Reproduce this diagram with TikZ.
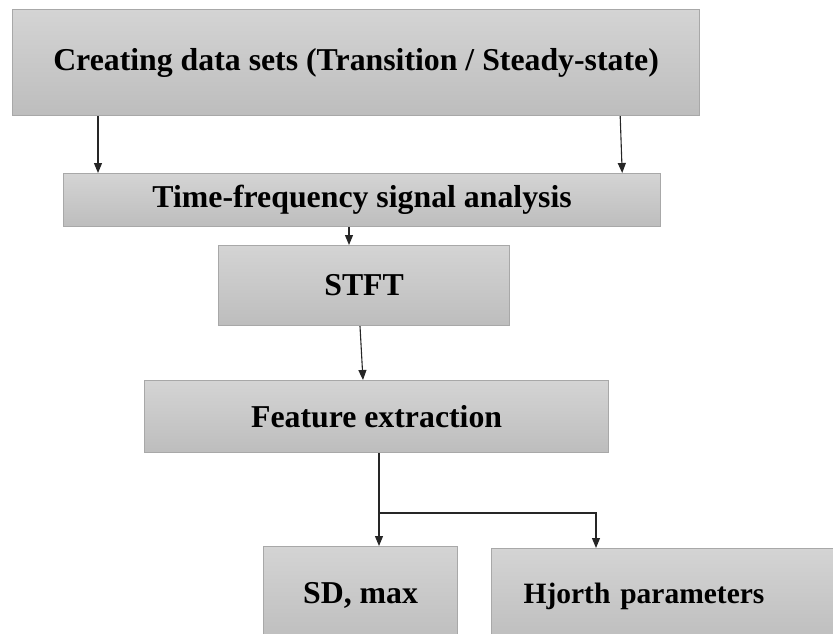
\documentclass[tikz,border=0pt]{standalone}
\usepackage{fontspec}
\setmainfont{Liberation Serif}
\usetikzlibrary{arrows.meta}
\definecolor{boxtop}{HTML}{D4D4D4}
\definecolor{boxbot}{HTML}{BDBDBD}
\definecolor{boxline}{HTML}{A8A8A8}
\tikzset{
  box/.style={draw=boxline, line width=1.2pt, top color=boxtop, bottom color=boxbot,
    rectangle, anchor=north west, inner sep=0pt,
    font=\fontsize{31.8}{36}\selectfont\bfseries},
  arr/.style={draw=black!85, line width=1.1pt, -{Triangle[length=10pt,width=8pt]}},
}
\begin{document}
\begin{tikzpicture}[x=1pt,y=-1pt]
\useasboundingbox (0,0) rectangle (833,634);
\clip (0,0) rectangle (833,634);
\node[box, minimum width=687pt, minimum height=106pt] (b1) at (12,9) {\raisebox{-3pt}{Creating data sets (Transition / Steady-state)}};
\node[box, minimum width=597pt, minimum height=53pt] (b2) at (63,173) {Time-frequency signal analysis};
\node[box, minimum width=291pt, minimum height=80pt] (st) at (218,245) {STFT};
\node[box, minimum width=464pt, minimum height=72pt] (fe) at (144,380) {Feature extraction};
\node[box, minimum width=194pt, minimum height=98pt] (sd) at (263,546) {SD, max};
\node[box, minimum height=96pt, text width=296pt, inner xsep=32pt, align=left,
  font=\fontsize{29.5}{34}\selectfont\bfseries] (hj) at (491,548) {Hjorth parameters};
\draw[arr] ([xshift=86pt]b1.south west) -- ([xshift=35pt]b2.north west);
\draw[arr] ([xshift=-80pt]b1.south east) -- ([xshift=-39pt]b2.north east);
\draw[arr] ([xshift=286pt]b2.south west) -- ([xshift=131pt]st.north west);
\draw[arr] ([xshift=142pt]st.south west) -- ([xshift=219pt]fe.north west);
\draw[arr] ([xshift=235pt]fe.south west) -- ([xshift=116pt]sd.north west);
\coordinate (j) at (379,513);
\draw[arr] (j) -| ([xshift=105pt]hj.north west);
\end{tikzpicture}
\end{document}
